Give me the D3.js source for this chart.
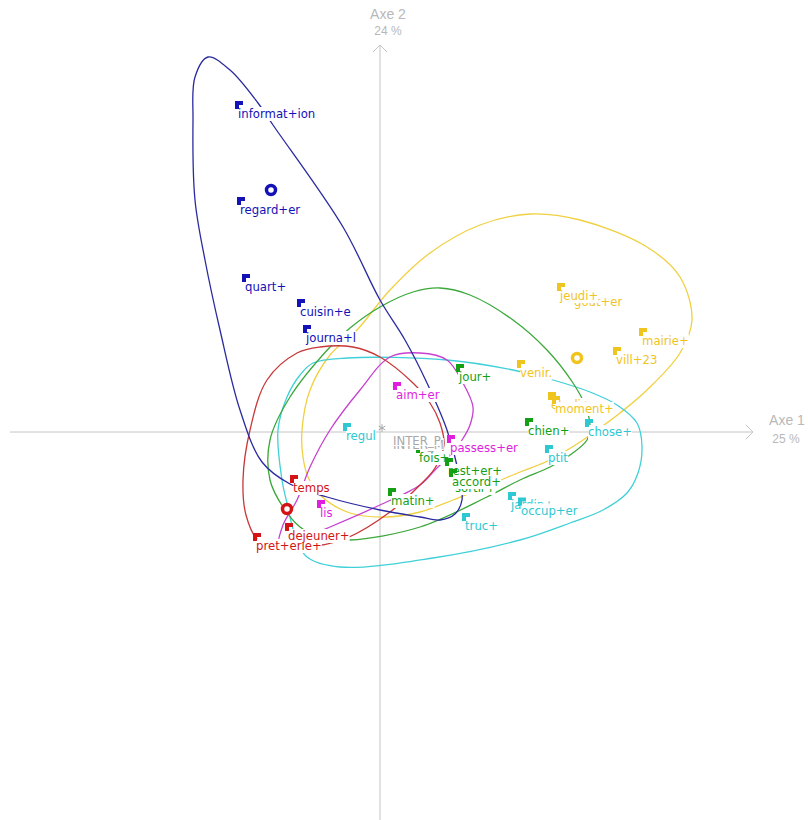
<!DOCTYPE html>
<html lang="fr">
  <head>
    <meta charset="UTF-8" />
    <title>AFC - plan factoriel axes 1 et 2</title>
    <script src="https://d3js.org/d3.v7.min.js"></script>
    <style>
      body { margin: 0; background: #fff; }
      svg { display: block; }
      .word { font-family: "DejaVu Sans", Verdana, sans-serif; font-size: 11.7px; }
      .axis-label { font-family: "Liberation Sans", Arial, sans-serif; fill: #b8b8b8; }
    </style>
  </head>
  <body>
    <svg id="plan" width="808" height="820"></svg>

    <script>
      // words: [label, axe 1, axe 2]
      const blueWords = [
        ["informat+ion", -1.45, 3.31],
        ["regard+er", -1.43, 2.35],
        ["quart+", -1.38, 1.58],
        ["cuisin+e", -0.83, 1.33],
        ["journa+l", -0.77, 1.07],
      ];
      const redWords = [
        ["temps", -0.9, -0.43],
        ["pret+erie+", -1.27, -1.01],
        ["dejeuner+", -0.95, -0.91],
      ];
      const greenWords = [
        ["fois+", 0.36, -0.13],
        ["sortir+", 0.72, -0.43],
        ["rest+er+", 0.65, -0.26],
        ["accord+", 0.69, -0.37],
        ["matin+", 0.08, -0.56],
        ["jour+", 0.76, 0.68],
        ["chien+", 1.45, 0.14],
      ];
      const cyanWords = [
        ["regul", -0.37, 0.09],
        ["jardin+", 1.28, -0.6],
        ["occup+er", 1.38, -0.655],
        ["truc+", 0.82, -0.81],
        ["ptit", 1.65, -0.13],
        ["chose+", 2.05, 0.13],
      ];
      const magentaWords = [
        ["lis", -0.63, -0.68],
        ["aim+er", 0.13, 0.5],
        ["passess+er", 0.67, -0.03],
      ];
      const yellowWords = [
        ["gout+er", 1.91, 1.43],
        ["jeudi+", 1.77, 1.49],
        ["mairie+", 2.59, 1.04],
        ["vill+23", 2.33, 0.85],
        ["venir.", 1.37, 0.72],
        ["etudi+er", 1.68, 0.4],
        ["moment+", 1.72, 0.36],
      ];
      const greyWords = [
        ["INTER_M", 0.02, 0.0],
        ["INTER_P", 0.02, 0.04],
      ];

      // group centres [axe 1, axe 2]
      const blueCentre = [-1.09, 2.42];
      const redCentre = [-0.93, -0.77];
      const yellowCentre = [1.97, 0.74];

      // closed outlines of each group
      const blueCurve = [
        [-1.72, 3.75], [-1.5, 3.62], [-1.22, 3.29], [-1.07, 3.07], [-0.37, 2.05],
        [0, 1.32], [0.25, 0.92], [0.47, 0.49], [0.67, 0.02], [0.78, -0.38],
        [0.82, -0.68], [0.75, -0.82], [0.6, -0.88], [0.4, -0.85], [0, -0.78],
        [-0.53, -0.65], [-0.9, -0.52], [-1.18, -0.3], [-1.4, 0.22], [-1.6, 1.02],
        [-1.75, 1.72], [-1.85, 2.32], [-1.87, 3.12], [-1.85, 3.55],
      ];
      const redCurve = [
        [-0.6, 0.85], [-0.27, 0.85], [0, 0.75], [0.33, 0.49], [0.5, 0.29],
        [0.6, 0.09], [0.64, -0.13], [0.55, -0.36], [0.4, -0.53], [0.1, -0.8],
        [-0.33, -1.06], [-0.63, -1.14], [-0.95, -1.16], [-1.22, -1.08],
        [-1.34, -0.83], [-1.37, -0.48], [-1.3, 0.02], [-1.13, 0.52], [-0.83, 0.79],
      ];
      const magentaCurve = [
        [0.1, 0.75], [0.4, 0.79], [0.67, 0.72], [0.83, 0.49], [0.93, 0.25],
        [0.9, 0.07], [0.82, -0.08], [0.7, -0.23], [0.55, -0.38], [0.4, -0.53],
        [0, -0.73], [-0.5, -0.95], [-0.82, -1.08], [-1.01, -1.14], [-0.97, -0.93],
        [-0.83, -0.68], [-0.7, -0.35], [-0.5, 0.02], [-0.2, 0.42],
      ];
      const greenCurve = [
        [0.6, 1.44], [0.9, 1.37], [1.33, 1.12], [1.67, 0.82], [1.93, 0.49],
        [2.05, 0.27], [2.1, 0.07], [2.07, -0.08], [1.9, -0.23], [1.7, -0.35],
        [1.4, -0.48], [1.07, -0.65], [0.4, -0.95], [-0.3, -1.08], [-0.6, -1.05],
        [-0.8, -0.95], [-0.97, -0.75], [-1.1, -0.48], [-1.1, -0.08], [-0.9, 0.35],
        [-0.5, 0.85], [-0.3, 1.04], [0, 1.25], [0.33, 1.4],
      ];
      const cyanCurve = [
        [-0.67, 0.69], [-0.33, 0.74], [0.67, 0.72], [1.33, 0.62], [1.73, 0.52],
        [2.1, 0.4], [2.37, 0.27], [2.57, 0.09], [2.62, -0.15], [2.58, -0.41],
        [2.47, -0.61], [2.23, -0.78], [1.9, -0.91], [1.4, -1.08], [0.53, -1.26],
        [-0.4, -1.35], [-0.73, -1.25], [-0.85, -1.03], [-0.93, -0.71],
        [-0.98, -0.48], [-1.02, 0.02], [-0.93, 0.35], [-0.8, 0.57],
      ];
      const yellowCurve = [
        [-0.78, 0.02], [-0.7, 0.42], [-0.5, 0.77], [-0.23, 1.02], [0.1, 1.42],
        [0.5, 1.79], [1.0, 2.07], [1.5, 2.18], [2.0, 2.12], [2.67, 1.85],
        [3.0, 1.55], [3.12, 1.12], [3.0, 0.79], [2.67, 0.42], [2.4, 0.19],
        [2.2, 0.04], [2.03, -0.08], [1.7, -0.28], [1.4, -0.4], [0.73, -0.68],
        [0.4, -0.8], [0.07, -0.85], [-0.3, -0.81], [-0.6, -0.63], [-0.72, -0.45],
        [-0.77, -0.25],
      ];

      const axisNames = ["Axe 1", "Axe 2"];
      const axisShares = ["25 %", "24 %"];

      const groups = [
        { words: blueWords, curve: blueCurve, text: "#1212b8", stroke: "#2a2aa0" },
        { words: redWords, curve: redCurve, text: "#d41414", stroke: "#c83838" },
        { words: greenWords, curve: greenCurve, text: "#14a014", stroke: "#3aa83a" },
        { words: cyanWords, curve: cyanCurve, text: "#2ec8d2", stroke: "#40d0d8" },
        { words: magentaWords, curve: magentaCurve, text: "#e01ee0", stroke: "#c840d0" },
        { words: yellowWords, curve: yellowCurve, text: "#f0c41e", stroke: "#f0d040" },
      ];

      const svg = d3.select("#plan");

      const x = d3.scaleLinear().domain([-3.7, 3.7]).range([10, 750]);
      const y = d3.scaleLinear().domain([-3.88, 3.92]).range([820, 40]);

      // axes
      const axisColor = "#c4c4c4";
      const ax = svg.append("g").attr("stroke", axisColor).attr("fill", "none");
      ax.append("line")
        .attr("x1", x(-3.7)).attr("x2", x(3.73))
        .attr("y1", y(0)).attr("y2", y(0));
      ax.append("polyline")
        .attr("points", `${x(3.73) - 7},${y(0) - 7} ${x(3.73)},${y(0)} ${x(3.73) - 7},${y(0) + 7}`);
      ax.append("line")
        .attr("x1", x(0)).attr("x2", x(0))
        .attr("y1", y(-3.88)).attr("y2", y(3.87));
      ax.append("polyline")
        .attr("points", `${x(0) - 7},${y(3.87) + 7} ${x(0)},${y(3.87)} ${x(0) + 7},${y(3.87) + 7}`);

      svg.append("text").attr("class", "axis-label")
        .attr("x", x(0) + 8).attr("y", 19).attr("text-anchor", "middle")
        .attr("font-size", 14).text(axisNames[1]);
      svg.append("text").attr("class", "axis-label")
        .attr("x", x(0) + 8).attr("y", 35).attr("text-anchor", "middle")
        .attr("font-size", 12).text(axisShares[1]);
      svg.append("text").attr("class", "axis-label")
        .attr("x", 787).attr("y", 425).attr("text-anchor", "middle")
        .attr("font-size", 14).text(axisNames[0]);
      svg.append("text").attr("class", "axis-label")
        .attr("x", 786).attr("y", 443).attr("text-anchor", "middle")
        .attr("font-size", 12).text(axisShares[0]);

      // group outlines
      const outline = d3.line()
        .x((d) => x(d[0]))
        .y((d) => y(d[1]))
        .curve(d3.curveCatmullRomClosed.alpha(0.5));

      [5, 3, 2, 4, 1, 0].forEach((i) => {
        svg.append("path")
          .attr("d", outline(groups[i].curve))
          .attr("fill", "none")
          .attr("stroke", groups[i].stroke)
          .attr("stroke-width", 1.3);
      });

      // words: white box, text, then the flag marker
      const wordLayer = svg.append("g");
      function addWord(w, color, withFlag, dx, trim) {
        const px = x(w[1]);
        const py = y(w[2]);
        const g = wordLayer.append("g");
        const t = g.append("text")
          .attr("class", "word")
          .attr("x", px + dx)
          .attr("y", py + 17)
          .attr("fill", color)
          .text(w[0]);
        const b = t.node().getBBox();
        g.insert("rect", "text")
          .attr("x", b.x).attr("y", b.y)
          .attr("width", b.width).attr("height", b.height - trim)
          .attr("fill", "#fff");
        if (withFlag) {
          g.append("path")
            .attr("transform", `translate(${px},${py})`)
            .attr("d", "M0,0H8V4H4V8H0Z")
            .attr("fill", color);
        }
      }

      groups.forEach((grp) => grp.words.forEach((w) => addWord(w, grp.text, true, 3, 0)));
      // supplementary words (grey)
      greyWords.forEach((w) => addWord(w, "#a8a8a8", false, 11, 2));

      const star = d3.symbol().type(d3.symbolAsterisk).size(40);
      svg.append("path")
        .attr("transform", `translate(${x(0.02)},${y(0.04)})`)
        .attr("d", star())
        .attr("fill", "none")
        .attr("stroke", "#a8a8a8");

      // group centres
      [[blueCentre, groups[0].text], [redCentre, groups[1].text], [yellowCentre, groups[5].text]]
        .forEach(([c, color]) => {
          svg.append("circle")
            .attr("cx", x(c[0])).attr("cy", y(c[1]))
            .attr("r", 4.5)
            .attr("fill", "#fff")
            .attr("stroke", color)
            .attr("stroke-width", 3.5);
        });
    </script>
  </body>
</html>
